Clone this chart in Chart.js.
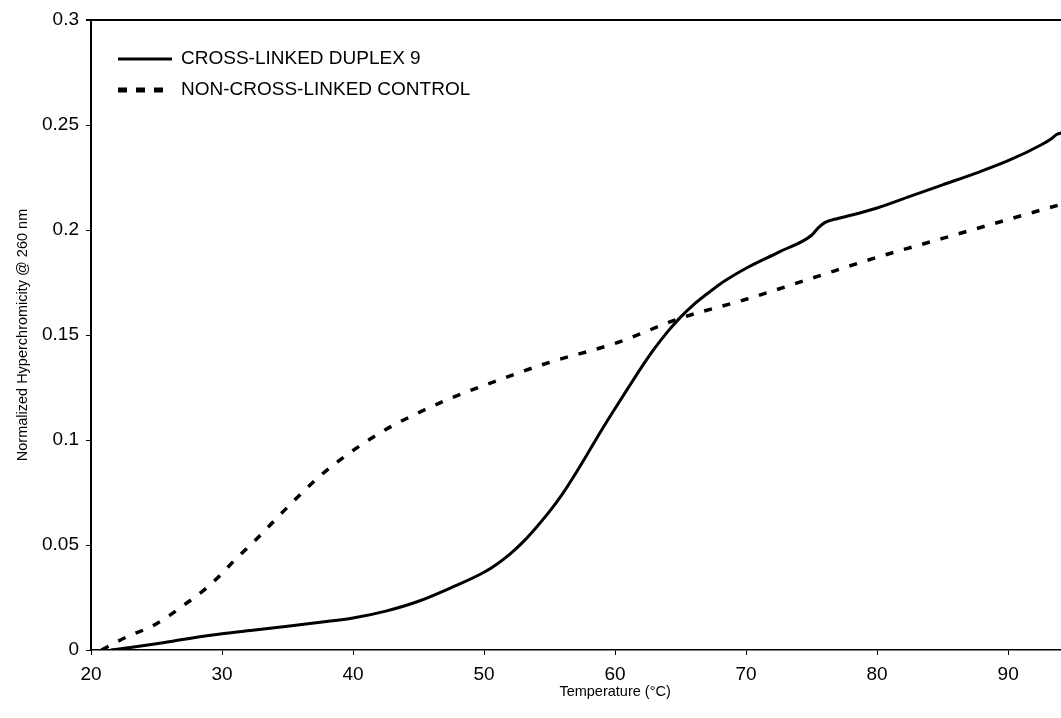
<!DOCTYPE html>
<html>
<head>
<meta charset="utf-8">
<script src="https://cdn.jsdelivr.net/npm/chart.js@4.4.0/dist/chart.umd.min.js"></script>
<style>
  html, body { margin: 0; padding: 0; background: #fff; overflow: hidden; }
  #wrap { width: 1163px; height: 718px; }
</style>
</head>
<body>
<div id="wrap"><canvas id="meltChart"></canvas></div>
<script>
// cross-linked duplex 9 (solid)
const tempLinked = [21.5, 23, 25, 27.5, 30, 32.5, 35, 37.5, 40, 42.5, 45, 47.5, 50, 51, 52, 53, 54, 55, 56, 57, 58, 59, 60, 61, 62, 63, 64, 65, 66, 67, 68, 69, 70, 72.5, 75, 75.5, 76, 77, 78, 80, 82.5, 85, 87.5, 90, 92.5, 93.3, 93.7, 94.2];
const hyperLinked = [0, 0.0012, 0.003, 0.0055, 0.0077, 0.0095, 0.0113, 0.0132, 0.0152, 0.0185, 0.0232, 0.0297, 0.037, 0.041, 0.0458, 0.0516, 0.0585, 0.066, 0.0745, 0.0842, 0.0945, 0.105, 0.115, 0.1248, 0.1345, 0.1435, 0.1515, 0.1585, 0.1645, 0.1695, 0.1742, 0.1782, 0.1818, 0.1895, 0.1975, 0.201, 0.2035, 0.2055, 0.207, 0.2105, 0.216, 0.2215, 0.227, 0.233, 0.2405, 0.2435, 0.2455, 0.2465];

// non-cross-linked control (dashed)
const tempControl = [20.8, 22, 23, 24, 25, 26, 27, 28, 29, 30, 31, 32.5, 35, 37.5, 40, 42.5, 45, 47.5, 50, 55, 60, 65, 70, 75, 80, 85, 90, 94.2];
const hyperControl = [0, 0.004, 0.007, 0.0095, 0.0125, 0.0165, 0.021, 0.0255, 0.0305, 0.0365, 0.043, 0.052, 0.068, 0.083, 0.095, 0.105, 0.113, 0.12, 0.126, 0.137, 0.146, 0.158, 0.167, 0.177, 0.187, 0.196, 0.205, 0.2125];

const seriesNames = ['CROSS-LINKED DUPLEX 9', 'NON-CROSS-LINKED CONTROL'];

const toPoints = (xs, ys) => xs.map((x, i) => ({ x: x, y: ys[i] }));

Chart.defaults.font.family = '"Liberation Sans", Arial, Helvetica, sans-serif';
Chart.defaults.color = '#000';

// legend drawn inside the plot, top left, plus the top frame line
const insideLegend = {
    id: 'insideLegend',
    afterDraw(chart) {
        const { ctx, chartArea } = chart;
        ctx.save();
        ctx.strokeStyle = '#000';
        ctx.lineWidth = 2;
        ctx.beginPath();
        ctx.moveTo(chartArea.left - 5, chartArea.top);
        ctx.lineTo(chartArea.right, chartArea.top);
        ctx.stroke();

        ctx.font = '19px "Liberation Sans", Arial, sans-serif';
        ctx.fillStyle = '#000';
        ctx.textBaseline = 'middle';
        chart.data.datasets.forEach((ds, i) => {
            const y = chartArea.top + 39 + i * 31;
            const x0 = chartArea.left + 27;
            ctx.beginPath();
            if (i === 0) {
                ctx.setLineDash([]);
                ctx.lineWidth = 3;
                ctx.moveTo(x0, y);
                ctx.lineTo(x0 + 54, y);
            } else {
                ctx.setLineDash([9, 9]);
                ctx.lineWidth = 5;
                ctx.moveTo(x0, y);
                ctx.lineTo(x0 + 45, y);
            }
            ctx.stroke();
            ctx.fillText(ds.label, chartArea.left + 90, y);
        });
        ctx.restore();
    }
};

const ctx = document.getElementById('meltChart').getContext('2d');
const meltChart = new Chart(ctx, {
    type: 'line',
    data: {
        datasets: [{
            label: seriesNames[0],
            data: toPoints(tempLinked, hyperLinked),
            borderColor: '#000',
            borderWidth: 3,
            pointRadius: 0,
            cubicInterpolationMode: 'monotone',
            fill: false
        }, {
            label: seriesNames[1],
            data: toPoints(tempControl, hyperControl),
            borderColor: '#000',
            borderWidth: 3.5,
            borderDash: [8, 11],
            pointRadius: 0,
            cubicInterpolationMode: 'monotone',
            fill: false
        }]
    },
    options: {
        responsive: true,
        maintainAspectRatio: false,
        animation: false,
        layout: { padding: { top: 20, right: 0, bottom: 0, left: 0 } },
        plugins: {
            legend: { display: false },
            tooltip: { enabled: false }
        },
        scales: {
            x: {
                type: 'linear',
                min: 20,
                max: 100,
                afterFit: function(scale) { scale.height = 68; },
                border: { display: true, color: '#000', width: 1.5 },
                grid: { drawOnChartArea: false, drawTicks: true, tickLength: 5, color: '#000', lineWidth: 1 },
                ticks: { stepSize: 10, padding: 8, font: { size: 19 }, color: '#000' },
                title: { display: true, text: 'Temperature (°C)', font: { size: 14.5 }, padding: { top: 0, bottom: 17 } }
            },
            y: {
                min: 0,
                max: 0.3,
                afterFit: function(scale) { scale.width = 91; },
                border: { display: true, color: '#000', width: 2 },
                grid: { drawOnChartArea: false, drawTicks: true, tickLength: 5, color: '#000', lineWidth: 1 },
                ticks: {
                    stepSize: 0.05,
                    padding: 7,
                    font: { size: 19 },
                    color: '#000',
                    callback: function(value) {
                        return String(parseFloat(value.toFixed(2)));
                    }
                },
                title: { display: true, text: 'Normalized Hyperchromicity @ 260 nm', font: { size: 14.5 }, padding: { top: 14, bottom: 0 } }
            }
        }
    },
    plugins: [insideLegend]
});
</script>
</body>
</html>
